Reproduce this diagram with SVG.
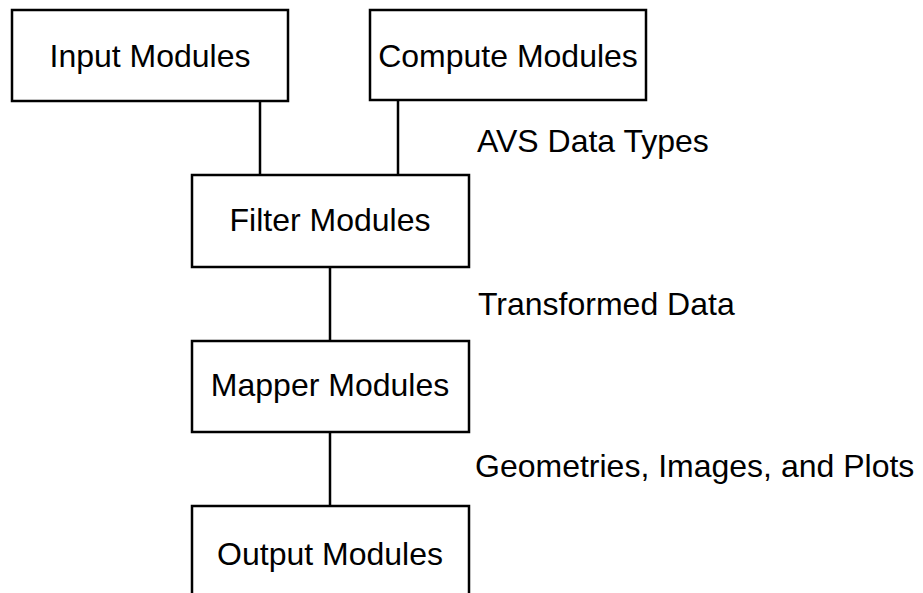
<svg xmlns="http://www.w3.org/2000/svg" width="923" height="593" viewBox="0 0 923 593">
<style>
.box{fill:#fff;stroke:#000;stroke-width:2.5}
.lbl{font-family:"Liberation Sans",Arial,sans-serif;font-size:32px;fill:#000}
.c{text-anchor:middle}
.edge{stroke:#000;stroke-width:2.5;fill:none}
</style>
<rect width="923" height="593" fill="#fff"/>
<g id="connectors">
<line class="edge" x1="260" y1="101" x2="260" y2="175"/>
<line class="edge" x1="398" y1="100" x2="398" y2="175"/>
<line class="edge" x1="330" y1="267" x2="330" y2="341"/>
<line class="edge" x1="330" y1="432" x2="330" y2="506"/>
<text class="lbl" x="477" y="152">AVS Data Types</text>
<text class="lbl" x="478" y="315">Transformed Data</text>
<text class="lbl" x="475" y="477">Geometries, Images, and Plots</text>
</g>
<g id="input"><rect class="box" x="12" y="10" width="276" height="91"/><text class="lbl c" x="150" y="67">Input Modules</text></g>
<g id="compute"><rect class="box" x="370" y="10" width="276" height="90"/><text class="lbl c" x="508" y="67">Compute Modules</text></g>
<g id="filter"><rect class="box" x="192" y="175" width="277" height="92"/><text class="lbl c" x="330" y="231">Filter Modules</text></g>
<g id="mapper"><rect class="box" x="192" y="341" width="277" height="91"/><text class="lbl c" x="330" y="396">Mapper Modules</text></g>
<g id="output"><rect class="box" x="192" y="506" width="277" height="120"/><text class="lbl c" x="330" y="565">Output Modules</text></g>
</svg>
